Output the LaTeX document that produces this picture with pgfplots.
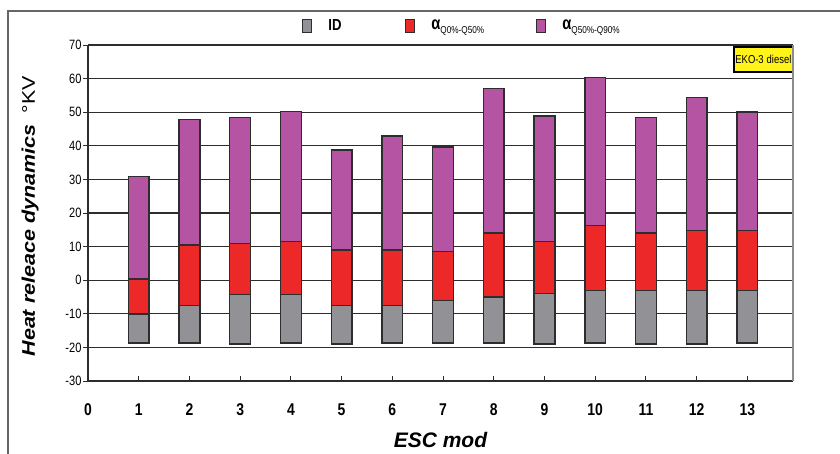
\documentclass[border=0pt]{standalone}
\usepackage{fontspec}
\setmainfont{Liberation Sans}
\newfontfamily\narrowfont[FakeStretch=0.82]{Liberation Sans}
\usepackage{graphicx}
\usepackage{pgfplots}
\pgfplotsset{compat=1.18}
\definecolor{idgray}{RGB}{146,146,150}
\definecolor{qred}{RGB}{236,40,40}
\definecolor{qpurple}{RGB}{180,84,162}
\definecolor{edge}{RGB}{45,45,45}
\begin{document}
\begin{tikzpicture}
\path[use as bounding box] (0pt,0pt) rectangle (840pt,-453pt);
\draw[line width=1.5pt, black!60] (8pt,-11pt) rectangle (870pt,-480pt);
\begin{axis}[
  at={(88pt,-381pt)}, anchor=south west,
  scale only axis, width=705pt, height=336pt,
  xmin=0, xmax=13.9, ymin=-30, ymax=70,
  axis x line*=bottom, axis y line*=left,
  axis line style={edge, line width=1.2pt},
  ymajorgrids, grid style={edge, line width=1.1pt},
  ytick={-30,-20,...,70},
  xtick={0,...,13},
  xtick align=inside, ytick align=outside,
  major tick length=5pt,
  tick style={edge, line width=1pt},
  /pgf/number format/assume math mode=true,
  y tick label style={font=\narrowfont\fontsize{13.5}{13.5}\selectfont, xshift=2pt},
  x tick label style={font=\narrowfont\bfseries\fontsize{17}{17}\selectfont, yshift=-19pt},
  xlabel={\fontsize{21}{21}\selectfont\bfseries\itshape ESC mod},
  xlabel style={at={(axis description cs:0.5,-0.175)}, anchor=center},
  ylabel={\scalebox{1}[0.85]{\fontsize{21.5}{21.5}\selectfont{\bfseries\itshape Heat releace dynamics}\hspace{11pt}°KV}},
  ylabel style={at={(axis description cs:-0.082,0.49)}, anchor=center, rotate=0},
  ybar stacked, stack negative=on previous, bar width=0.41,
  legend columns=4,
  legend style={at={(axis description cs:0.274,1.058)}, anchor=west, draw=none, fill=none,
    font=\narrowfont\fontsize{16}{16}\selectfont,
    /tikz/every odd column/.append style={column sep=14pt}},
  legend image code/.code={\draw[#1, line width=1pt] (0pt,-6.5pt) rectangle (9pt,6.5pt);},
  clip=false,
]
% invisible offsets (bottom of each floating bar)
\addplot[draw=none, fill=none, legend image code/.code={}] coordinates {
 (1,-18.7) (2,-18.7) (3,-19) (4,-18.7) (5,-19) (6,-18.7) (7,-18.7)
 (8,-18.7) (9,-19) (10,-18.7) (11,-19) (12,-19) (13,-18.7)};
\addlegendentry{}
\addplot[fill=idgray, draw=edge, line width=1.4pt] coordinates {
 (1,8.7) (2,11.2) (3,14.8) (4,14.5) (5,11.5) (6,11.2) (7,12.7)
 (8,13.7) (9,15) (10,15.7) (11,16) (12,16) (13,15.7)};
\addlegendentry{\makebox[75pt][l]{\bfseries ID}}
\addplot[fill=qred, draw=edge, line width=1.4pt] coordinates {
 (1,10.3) (2,18) (3,15.2) (4,15.7) (5,16.5) (6,16.5) (7,14.5)
 (8,19) (9,15.5) (10,19.3) (11,17) (12,17.8) (13,17.8)};
\addlegendentry{\makebox[103pt][l]{{\fontsize{18}{18}\selectfont\bfseries α}\raisebox{-0.5ex}{\fontsize{10}{10}\selectfont Q0\%-Q50\%}}}
\addplot[fill=qpurple, draw=edge, line width=1.4pt] coordinates {
 (1,30.6) (2,37.4) (3,37.4) (4,38.7) (5,29.7) (6,33.9) (7,31.2)
 (8,43.1) (9,37.4) (10,44.1) (11,34.4) (12,39.6) (13,35.3)};
\addlegendentry{\makebox[95pt][l]{{\fontsize{18}{18}\selectfont\bfseries α}\raisebox{-0.5ex}{\fontsize{10}{10}\selectfont Q50\%-Q90\%}}}
\draw[black!45, line width=1.2pt] (rel axis cs:1,0) -- (rel axis cs:1,1);
\node[draw=black, line width=1.3pt, fill=yellow!90!white, minimum width=59pt, minimum height=25pt, inner sep=1pt,
  font=\narrowfont\fontsize{11.5}{11.5}\selectfont] at (axis description cs:0.958,0.957) {EKO-3\hspace{3pt}diesel};
\end{axis}
\end{tikzpicture}
\end{document}
